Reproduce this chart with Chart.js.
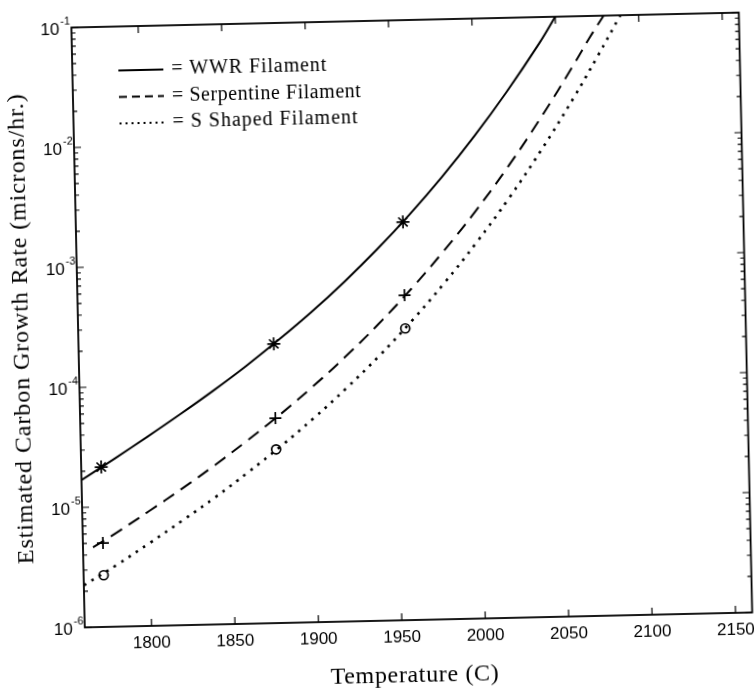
<!DOCTYPE html>
<html>
<head>
<meta charset="utf-8">
<title>Estimated Carbon Growth Rate</title>
<script src="https://cdn.jsdelivr.net/npm/chart.js@4.4.1/dist/chart.umd.min.js"></script>
<style>
  html, body { margin: 0; padding: 0; background: #fff; }
  /* the original is a slightly crooked scan, so tilt the whole chart a bit */
  #wrap { width: 755px; height: 692px; transform-origin: 412px 320px; transform: rotate(-1.28deg); }
</style>
</head>
<body>
<div id="wrap"><canvas id="myChart" width="755" height="692"></canvas></div>
<script>
// temperature (C) vs growth rate (microns/hr.)
const wwrTemp = [1760, 1780, 1800, 1820, 1840, 1860, 1880, 1900, 1920, 1940, 1960, 1980, 2000, 2020, 2040, 2050];
const wwrRate = [1.69e-5, 2.51e-5, 3.77e-5, 5.73e-5, 8.85e-5, 1.40e-4, 2.29e-4, 3.85e-4, 6.76e-4, 1.24e-3,
                 2.39e-3, 4.86e-3, 1.05e-2, 2.43e-2, 6.03e-2, 1.0e-1];

const serpTemp = [1766, 1780, 1800, 1820, 1840, 1860, 1880, 1900, 1920, 1940, 1960, 1980, 2000, 2020, 2040, 2060, 2070, 2079];
const serpRate = [4.63e-6, 6.03e-6, 9.04e-6, 1.37e-5, 2.12e-5, 3.37e-5, 5.48e-5, 9.25e-5, 1.62e-4, 2.97e-4,
                  5.73e-4, 1.17e-3, 2.52e-3, 5.82e-3, 1.45e-2, 3.87e-2, 6.5e-2, 1.0e-1];

const sTemp = [1760, 1780, 1800, 1820, 1840, 1860, 1880, 1900, 1920, 1940, 1960, 1980, 2000, 2020, 2040, 2060, 2075, 2089];
const sRate = [2.24e-6, 3.27e-6, 4.91e-6, 7.46e-6, 1.15e-5, 1.83e-5, 2.98e-5, 5.02e-5, 8.81e-5, 1.61e-4,
               3.11e-4, 6.34e-4, 1.37e-3, 3.16e-3, 7.85e-3, 2.10e-2, 4.64e-2, 1.0e-1];

// the measured points (markers)
const markerTemp = [1772, 1877, 1956];
const wwrMarks = [2.15e-5, 2.12e-4, 2.08e-3];
const serpMarks = [5.0e-6, 5.1e-5, 5.1e-4];
const sMarks = [2.7e-6, 2.8e-5, 2.7e-4];

const legendNames = ['WWR Filament', 'Serpentine Filament', 'S Shaped Filament'];
const xTicks = [1800, 1850, 1900, 1950, 2000, 2050, 2100, 2150];
const yDecades = [1e-6, 1e-5, 1e-4, 1e-3, 1e-2, 1e-1];
const yExps = ['-6', '-5', '-4', '-3', '-2', '-1'];
const xTitle = 'Temperature (C)';
const yTitle = 'Estimated Carbon Growth Rate (microns/hr.)';

const SANS = '"Liberation Sans", Arial, sans-serif';
const SERIF = '"Liberation Serif", "Times New Roman", serif';

function pts(xs, ys) {
    return xs.map(function(x, i) { return {x: x, y: ys[i]}; });
}

const dashes = [[], [13, 8], [2.6, 6.2]];
const widths = [2, 2, 2.6];
const legendDashes = [[], [8, 5], [2, 4]];
const legendTextWidth = [155, 189, 185];

// text fitted to the width it has in the scan (old printer Times runs wide)
function spreadText(ctx, text, x, y, size, target) {
    ctx.font = size + 'px ' + SERIF;
    ctx.letterSpacing = '0px';
    const w = ctx.measureText(text).width;
    const sp = Math.max(0, (target - w) / (text.length - 1));
    ctx.letterSpacing = sp.toFixed(2) + 'px';
    ctx.fillText(text, x, y);
    ctx.letterSpacing = '0px';
}

// box, inward ticks, superscript y labels, titles and the in-plot legend
const framePlugin = {
    id: 'frame',
    afterDraw: function(chart) {
        const ctx = chart.ctx;
        const ca = chart.chartArea;
        const xs = chart.scales.x, ys = chart.scales.y;
        ctx.save();
        ctx.strokeStyle = '#000';
        ctx.fillStyle = '#000';
        ctx.lineWidth = 1.8;
        ctx.setLineDash([]);
        ctx.strokeRect(ca.left, ca.top, ca.right - ca.left, ca.bottom - ca.top);

        ctx.lineWidth = 1.2;
        ctx.beginPath();
        xTicks.forEach(function(v) {
            const px = xs.getPixelForValue(v);
            ctx.moveTo(px, ca.bottom); ctx.lineTo(px, ca.bottom - 7);
            ctx.moveTo(px, ca.top); ctx.lineTo(px, ca.top + 7);
        });
        yDecades.forEach(function(d) {
            for (let m = 1; m <= 9; m++) {
                const v = d * m;
                if (v > 1e-1 * 1.0001) break;
                const py = ys.getPixelForValue(v);
                const len = m === 1 ? 7 : 4;
                ctx.moveTo(ca.left, py); ctx.lineTo(ca.left + len, py);
                ctx.moveTo(ca.right, py); ctx.lineTo(ca.right - len, py);
            }
        });
        ctx.stroke();

        // 10^n labels
        yDecades.forEach(function(d, k) {
            const py = ys.getPixelForValue(d);
            ctx.font = '17px ' + SANS;
            ctx.textAlign = 'right';
            ctx.textBaseline = 'middle';
            ctx.fillText('10', ca.left - 12, py + 2);
            ctx.font = '11px ' + SANS;
            ctx.textAlign = 'left';
            ctx.fillText(yExps[k], ca.left - 11, py - 6);
        });

        // axis titles
        ctx.textAlign = 'center';
        ctx.textBaseline = 'middle';
        spreadText(ctx, xTitle, 407, 676, 24, 168);
        ctx.save();
        ctx.translate(22, (ca.top + ca.bottom) / 2);
        ctx.rotate(-Math.PI / 2);
        spreadText(ctx, yTitle, 0, 0, 24, 470);
        ctx.restore();

        // legend
        ctx.textAlign = 'left';
        for (let i = 0; i < 3; i++) {
            const y = ca.top + 44 + 26.5 * i;
            ctx.lineWidth = 1.8;
            ctx.setLineDash(legendDashes[i]);
            ctx.beginPath();
            ctx.moveTo(ca.left + 46, y);
            ctx.lineTo(ca.left + 91, y);
            ctx.stroke();
            ctx.setLineDash([]);
            spreadText(ctx, '= ' + legendNames[i], ca.left + 99, y, 20, legendTextWidth[i]);
        }
        ctx.restore();
    }
};

function lineSet(data, i) {
    return {
        data: data,
        showLine: true,
        borderColor: '#000',
        borderWidth: widths[i],
        borderDash: dashes[i],
        pointRadius: 0,
        tension: 0.4,
        fill: false
    };
}

function markSet(data, style, r) {
    return {
        data: data,
        showLine: false,
        pointStyle: style,
        pointRadius: r,
        pointBorderColor: '#000',
        pointBackgroundColor: 'rgba(0,0,0,0)',
        pointBorderWidth: 1.7
    };
}

var ctx = document.getElementById('myChart').getContext('2d');
var myChart = new Chart(ctx, {
    type: 'scatter',
    data: {
        datasets: [
            lineSet(pts(wwrTemp, wwrRate), 0),
            lineSet(pts(serpTemp, serpRate), 1),
            lineSet(pts(sTemp, sRate), 2),
            markSet(pts(markerTemp, wwrMarks), 'star', 6.5),
            markSet(pts(markerTemp, serpMarks), 'cross', 6),
            markSet(pts(markerTemp, sMarks), 'circle', 4.5)
        ]
    },
    options: {
        responsive: false,
        devicePixelRatio: 1,
        animation: false,
        layout: {padding: {top: 20, right: 8, left: 0, bottom: 0}},
        plugins: {legend: {display: false}, tooltip: {enabled: false}},
        scales: {
            x: {
                type: 'linear',
                min: 1760,
                max: 2160,
                afterBuildTicks: function(s) { s.ticks = xTicks.map(function(v) { return {value: v}; }); },
                afterFit: function(s) { s.height = 72; },
                grid: {display: false, drawTicks: false},
                border: {display: false},
                ticks: {color: '#000', font: {family: SANS, size: 17}, padding: 7, maxRotation: 0,
                        callback: function(v) { return String(v); }}
            },
            y: {
                type: 'logarithmic',
                min: 1e-6,
                max: 1e-1,
                afterFit: function(s) { s.width = 78; },
                grid: {display: false, drawTicks: false},
                border: {display: false},
                ticks: {display: false}
            }
        }
    },
    plugins: [framePlugin]
});
</script>
</body>
</html>
